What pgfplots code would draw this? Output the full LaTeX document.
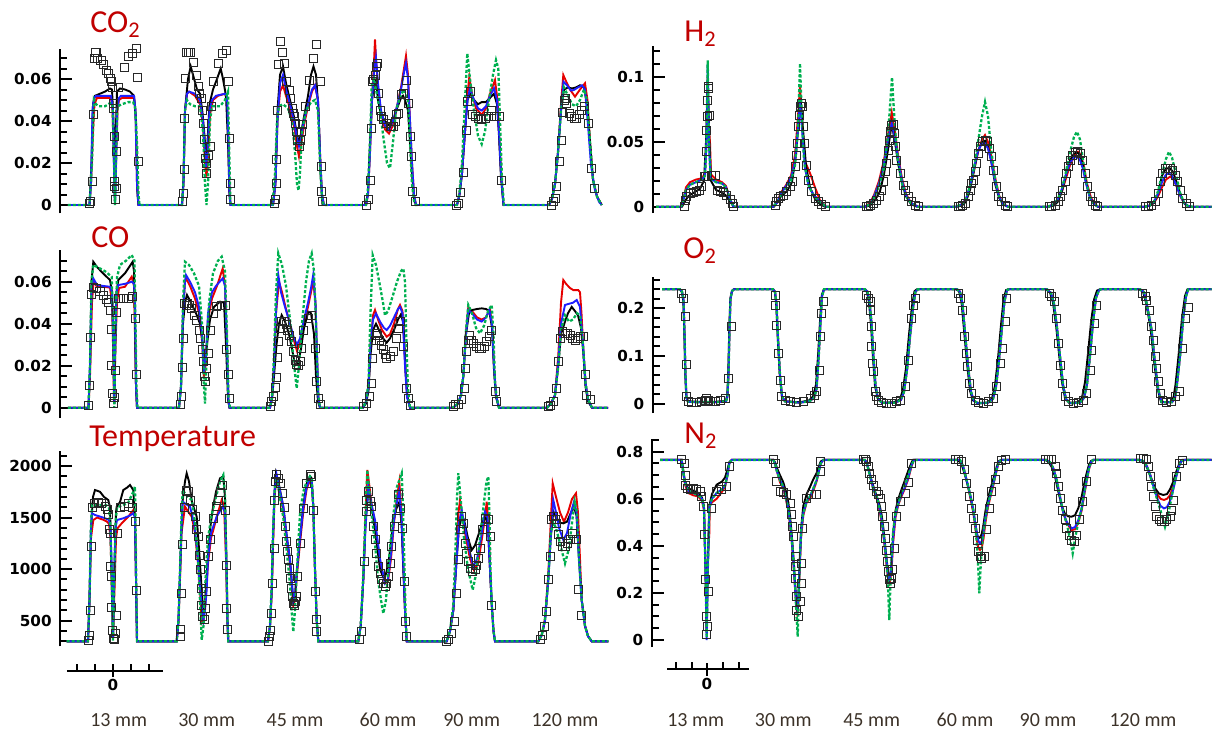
\documentclass[border=0pt]{standalone}
\usepackage{pgfplots}
\pgfplotsset{compat=1.18}
\usepackage{pgfplotstable}
\usepackage{fontspec}
\newfontfamily\tickfont{DejaVu Sans}
\newfontfamily\calfont{Carlito}
\definecolor{cred}{RGB}{230,0,0}
\definecolor{cblue}{RGB}{30,30,255}
\definecolor{cgreen}{RGB}{0,176,80}
\definecolor{ttl}{RGB}{192,0,0}
\definecolor{lbl}{RGB}{60,50,40}
\definecolor{sq}{RGB}{40,40,40}
\newcommand{\tl}[1]{\mbox{\tickfont\bfseries\fontsize{7.6}{9}\selectfont #1}}
\pgfplotsset{
  panel/.style={x=0.5pt, clip=false, axis x line=none, axis y line*=left,
    y axis line style={line width=1pt, black},
    tick align=inside, major tick length=6pt, minor tick length=3.5pt,
    every tick/.style={black, line width=1pt},
    xtick=\empty, scaled y ticks=false,
    yticklabel style={inner sep=0pt, xshift=-4pt},
    anchor=south west},
  sbar/.style={x=0.5pt, y=10pt, ymin=0, ymax=1, axis y line=none, axis x line*=bottom,
    x axis line style={line width=1pt, black}, tick align=center,
    major tick length=6.5pt, minor tick length=3.5pt,
    every tick/.style={black, line width=1pt},
    every minor tick/.append style={yshift=1.75pt},
    xticklabel style={inner sep=0pt, yshift=-1pt},
    anchor=south west, clip=false},
  lr/.style={cred, line width=0.95pt, no markers},
  lb/.style={cblue, line width=0.95pt, no markers},
  lk/.style={black, line width=0.95pt, no markers},
  lg/.style={cgreen, line width=1.15pt, dash pattern=on 1.5pt off 1pt, no markers},
  sqm/.style={only marks, mark=square, mark size=2pt, mark options={draw=sq, line width=0.5pt, fill=none, solid}},
}
\pgfplotstableread{
x y
662 0.24
680 0.24
682 0.235
683.5 0.22
684.5 0.15
685.5 0.06
686.5 0.012
688 0.004
700 0.003
715 0.003
726 0.005
727.5 0.015
728.5 0.06
729.5 0.15
730.5 0.22
732 0.236
734 0.24
773 0.24
775 0.235
776.5 0.21
778 0.14
780 0.06
782 0.015
785 0.005
800 0.002
810 0.006
814 0.012
816.5 0.03
818.5 0.09
820.5 0.17
822 0.225
824 0.24
865 0.24
867.5 0.235
869.5 0.215
871.5 0.17
873.5 0.1
875.5 0.04
878 0.01
882 0.002
895 0.002
901 0.008
904 0.025
907 0.07
910 0.14
913 0.2
915.5 0.235
918 0.24
957 0.24
960 0.235
962.5 0.21
965 0.15
968 0.08
971 0.025
974 0.006
978 0.001
988 0.002
993 0.01
996 0.035
999 0.09
1002 0.16
1004.5 0.215
1007 0.238
1009 0.24
1047 0.24
1051 0.232
1054 0.21
1057 0.16
1060 0.1
1063 0.04
1066 0.01
1070 0.001
1080 0.002
1084 0.012
1087 0.04
1090 0.1
1093 0.17
1096 0.222
1099 0.238
1101 0.24
1140 0.24
1144 0.234
1146.7 0.21
1151.7 0.154
1155 0.085
1158.3 0.029
1161.7 0.003
1172 0.003
1175 0.012
1176.7 0.035
1180 0.098
1183.3 0.18
1186 0.225
1188.3 0.24
1211.7 0.24
}\otwo
\begin{document}
\begin{tikzpicture}
\path[use as bounding box] (0,0) rectangle (606pt,-367pt);

% ---------------- CO2 ----------------
\begin{axis}[panel, xmin=60, xmax=605, ymin=-0.004, ymax=0.0745, y=1050pt, at={(30pt,-106.7pt)},
 ytick={0,0.02,0.04,0.06}, yticklabels={\tl{0},\tl{0.02},\tl{0.04},\tl{0.06}},
 minor ytick={0.005,0.01,0.015,0.025,0.03,0.035,0.045,0.05,0.055,0.065,0.07}]
\addplot[lr] coordinates {(68,0) (89.5,0) (91,0.01) (93,0.035) (94.5,0.048) (97,0.051) (111,0.051) (112.5,0.045) (114,0.02) (115,0.01) (116,0.02) (117.5,0.045) (119,0.05) (122,0.051) (134,0.051) (135.5,0.045) (137,0.01) (138.5,0)
(182,0) (183.5,0.01) (185,0.045) (187,0.053) (189,0.054) (195,0.052) (200,0.048) (203,0.038) (205,0.02) (206.5,0.0135) (208,0.022) (210,0.043) (213,0.05) (218,0.052) (225,0.053) (227,0.05) (228.5,0.03) (229.5,0.005) (230.5,0)
(273,0) (275.5,0.01) (277.5,0.04) (280,0.054) (283,0.057) (286,0.052) (290,0.046) (294,0.038) (297,0.028) (299,0.023) (301,0.028) (304,0.038) (308,0.047) (312,0.054) (315,0.057) (318,0.05) (320,0.025) (322,0.005) (324,0)
(366,0) (368,0.005) (370,0.025) (372,0.05) (374,0.068) (375,0.0789) (376,0.07) (378,0.056) (381,0.044) (385,0.036) (389,0.034) (393,0.038) (397,0.047) (401,0.056) (404,0.065) (406,0.071) (408,0.062) (410,0.04) (412,0.02) (414,0.005) (416,0)
(457,0) (459.5,0.005) (462,0.015) (465,0.035) (467.5,0.053) (469.3,0.061) (472,0.053) (476,0.046) (481.7,0.043) (486,0.046) (490,0.053) (495,0.0595) (497.5,0.05) (499.5,0.03) (501.5,0.012) (503.5,0)
(549,0) (552,0.003) (555,0.01) (558,0.025) (561,0.048) (563.3,0.0619) (566,0.059) (570,0.055) (575,0.0516) (580,0.055) (585,0.058) (587.5,0.05) (590,0.03) (593,0.012) (597,0.004) (601.7,0)};
\addplot[lk] coordinates {(68,0) (89.5,0) (91.5,0.02) (93,0.048) (95,0.052) (100,0.053) (105,0.054) (110,0.0555) (112,0.055) (113.5,0.04) (114.8,0.002) (115.5,0.03) (117,0.054) (120,0.0555) (125,0.055) (130,0.054) (134,0.052) (136,0.04) (137.5,0.005) (138.5,0)
(182,0) (183.5,0.012) (185,0.045) (188,0.06) (190.7,0.066) (193,0.062) (197,0.055) (200,0.053) (202.5,0.044) (204.5,0.033) (206,0.023) (207.5,0.03) (209.5,0.048) (213,0.055) (217,0.06) (220.7,0.065) (223,0.06) (226,0.052) (228,0.03) (229.5,0.005) (230.5,0)
(273,0) (275.5,0.012) (277.5,0.045) (280,0.062) (283,0.066) (286,0.058) (290,0.05) (294,0.042) (297,0.033) (299,0.03) (301,0.034) (304,0.042) (308,0.052) (311,0.062) (313.5,0.066) (316,0.062) (318.5,0.045) (320.5,0.015) (322.5,0)
(366,0) (368,0.006) (370,0.03) (372,0.05) (374,0.057) (376,0.0595) (378,0.05) (381,0.043) (385,0.04) (389,0.038) (393,0.04) (397,0.046) (401,0.051) (403,0.052) (405,0.05) (408,0.045) (410,0.03) (412,0.015) (414,0.003) (416,0)
(457,0) (459.5,0.005) (462,0.015) (465,0.035) (467.5,0.05) (470,0.053) (474,0.05) (478,0.048) (481.7,0.049) (486,0.049) (490,0.051) (494,0.053) (497,0.048) (499,0.033) (501,0.013) (503.5,0)
(549,0) (552,0.003) (555,0.01) (558,0.025) (561,0.045) (564,0.055) (568,0.056) (572,0.0555) (576,0.056) (580,0.057) (584,0.056) (587,0.048) (590,0.03) (593,0.012) (597,0.004) (601.7,0)};
\addplot[lb] coordinates {(68,0) (89.5,0) (91,0.01) (92.5,0.045) (94,0.051) (96,0.052) (111,0.052) (113,0.045) (114.5,0.005) (115,0.001) (115.5,0.005) (117,0.045) (119,0.051) (121,0.052) (134,0.052) (135.5,0.045) (137,0.01) (138.5,0)
(182,0) (183.5,0.01) (185,0.045) (187,0.053) (189,0.054) (195,0.053) (200,0.05) (203,0.04) (205,0.025) (206,0.018) (207.5,0.025) (209.5,0.045) (212,0.05) (216,0.052) (225,0.053) (227,0.052) (228.5,0.03) (229.5,0.005) (230.5,0)
(273,0) (275.5,0.01) (277.5,0.04) (280,0.058) (283,0.062) (286,0.055) (290,0.048) (294,0.04) (297,0.032) (299,0.028) (301,0.032) (304,0.04) (308,0.048) (312,0.055) (315,0.057) (318,0.05) (320,0.025) (322,0.005) (324,0)
(366,0) (368,0.005) (370,0.025) (372,0.05) (374,0.063) (376,0.07) (378,0.058) (381,0.045) (385,0.038) (389,0.0357) (393,0.04) (397,0.047) (401,0.055) (404,0.063) (406,0.0675) (408,0.06) (410,0.04) (412,0.02) (414,0.005) (416,0)
(457,0) (459.5,0.005) (462,0.015) (465,0.035) (467.5,0.05) (470,0.0556) (474,0.05) (478,0.046) (481.7,0.045) (486,0.047) (490,0.052) (494,0.0556) (497,0.05) (499,0.035) (501,0.015) (503.5,0)
(549,0) (552,0.003) (555,0.01) (558,0.025) (561,0.045) (563.5,0.0587) (567,0.057) (571,0.0545) (574,0.0548) (578,0.056) (582,0.057) (585,0.055) (588,0.038) (591,0.019) (595,0.007) (599,0.0015) (601.7,0)};
\addplot[lg] coordinates {(68,0) (89.5,0) (92,0.02) (94,0.05) (96,0.048) (99,0.047) (105,0.047) (110,0.0485) (112.5,0.048) (114,0.02) (115,0) (116,0.02) (117.5,0.047) (122,0.048) (128,0.049) (133,0.049) (135,0.047) (137,0.03) (138.5,0.005) (139.5,0)
(182,0) (183.5,0.012) (185,0.045) (187,0.05) (190,0.048) (195,0.047) (200,0.047) (203,0.035) (205,0.01) (206.5,0) (208,0.01) (210,0.04) (212,0.047) (220,0.047) (225,0.05) (228,0.054) (229.5,0.02) (230.5,0)
(272.5,0) (275,0.015) (277,0.04) (279,0.047) (283,0.048) (288,0.046) (292,0.04) (295,0.025) (297,0.01) (298.5,0.007) (300,0.015) (302,0.035) (306,0.045) (311,0.049) (315,0.05) (318,0.045) (320,0.02) (322,0.003) (323.5,0)
(366,0) (368,0.008) (370,0.03) (371.7,0.057) (374,0.06) (376,0.055) (380,0.045) (384,0.03) (387,0.02) (390,0.0175) (393,0.03) (396,0.045) (400,0.0516) (404,0.055) (408,0.05) (410,0.03) (412,0.01) (414,0.002) (416,0)
(457,0) (459.5,0.006) (462,0.02) (464.5,0.045) (467.3,0.0722) (470,0.06) (474,0.045) (478,0.033) (481.7,0.029) (485,0.035) (489,0.05) (493,0.062) (496,0.069) (498.3,0.065) (500,0.04) (502,0.012) (504,0)
(549,0) (552,0.003) (555,0.01) (558,0.025) (561,0.045) (564,0.056) (568,0.052) (572,0.048) (576,0.047) (580,0.05) (584,0.055) (587,0.05) (590,0.03) (593,0.012) (597,0.004) (601.7,0)};
\addplot[sqm] coordinates {(90,0.0008) (90.7,0.0016) (92.7,0.0114) (93.3,0.0429) (94.3,0.0698) (96,0.0725) (97.7,0.0698) (101,0.069) (103.3,0.0667) (106,0.064) (108.3,0.0624) (110,0.0603) (111.7,0.0587) (112.7,0.056) (113.3,0.0484) (113.3,0.046) (114,0.0325) (114,0.0111) (114.3,0.0087) (115,0.0027) (116,0.0254) (116.7,0.008) (118.3,0.056) (124,0.0654) (128.3,0.0706) (132.3,0.0722) (136,0.0746) (137.3,0.0606) (138.3,0.0206)
(182.7,0.0016) (183,0.0056) (184,0.017) (184.3,0.0413) (185.7,0.0603) (186.7,0.0727) (188.3,0.0727) (190.7,0.0727) (193.3,0.068) (196,0.0619) (198.3,0.0563) (199.3,0.0532) (201,0.0508) (202.3,0.0452) (203.3,0.0389) (204,0.031) (205,0.0222) (206,0.0151) (206.7,0.0198) (208.3,0.0238) (210,0.0278) (211.7,0.0468) (213.3,0.0587) (218.3,0.0674) (222.7,0.0722) (226,0.0738) (228.3,0.0587) (229.3,0.0317) (230,0.0103) (230,0.0024)
(274,0.0005) (275,0.0024) (276,0.0103) (276.7,0.0217) (277.7,0.0452) (278.3,0.0667) (280,0.0778) (282.7,0.0727) (284.3,0.0676) (286,0.0587) (289.3,0.0544) (290.7,0.0506) (292,0.046) (293.3,0.0437) (294.7,0.0421) (295.3,0.0389) (296.7,0.0349) (297.7,0.0309) (299,0.0278) (300,0.0309) (301,0.0349) (302.7,0.0381) (305,0.0468) (309.3,0.0595) (313.3,0.0698) (316.7,0.0762) (320,0.0587) (321.7,0.0183) (321.7,0.0063) (322.3,0.0016)
(366.7,0) (368.3,0.0024) (370,0.0119) (371,0.0365) (372.3,0.0587) (373.3,0.0598) (375,0.0619) (376,0.0659) (377.3,0.0675) (378.3,0.0532) (380,0.0452) (381.7,0.0421) (383.3,0.0405) (386.7,0.0389) (390,0.0373) (391.7,0.0373) (393.3,0.0373) (395,0.0397) (396.7,0.0429) (398.3,0.0437) (401.7,0.0524) (403.3,0.0532) (406.7,0.0595) (408.3,0.0484) (410,0.0325) (411.7,0.023) (412.7,0.0063) (415,0.0016)
(456.7,0) (458.3,0.0005) (460.7,0.0059) (463.3,0.0154) (466,0.0357) (467.7,0.0492) (470,0.054) (472.7,0.0429) (475,0.0421) (478.3,0.0413) (481.7,0.0405) (485,0.0413) (488.3,0.0421) (491.7,0.0452) (494,0.0421) (499.3,0.0421) (501.7,0.0119)
(551.7,0) (553.3,0.0016) (555,0.0032) (556.7,0.0087) (559.3,0.0206) (561,0.0308) (562.7,0.044) (564,0.05) (565.3,0.0508) (566.7,0.0484) (569.3,0.0437) (571.7,0.0421) (574,0.0413) (576.7,0.0413) (579.3,0.0429) (581.7,0.0452) (584,0.0471) (588.3,0.0386) (591.7,0.0175) (594,0.0079)};
\end{axis}

% ---------------- H2 ----------------
\begin{axis}[panel, xmin=652.7, xmax=1212, ymin=-0.005, ymax=0.124, y=647pt, at={(326.35pt,-106.6pt)},
 ytick={0,0.05,0.1}, yticklabels={\tl{0},\tl{0.05},\tl{0.1}},
 minor ytick={0.01,0.02,0.03,0.04,0.06,0.07,0.08,0.09,0.11,0.12}]
\addplot[lr] coordinates {(656,0) (681,0) (683,0.005) (686,0.015) (690,0.019) (696,0.021) (702,0.022) (705,0.026) (706.5,0.05) (707.7,0.1) (709,0.06) (710,0.05) (711,0.025) (716,0.021) (722,0.019) (726,0.016) (730,0.006) (733.5,0)
(773,0) (777,0.003) (781,0.011) (786,0.0167) (791,0.024) (795,0.04) (798,0.07) (800,0.093) (802,0.065) (805,0.035) (810,0.026) (815,0.015) (820,0.005) (826,0)
(865,0) (870,0.003) (874,0.009) (879,0.02) (884,0.036) (888,0.056) (891.7,0.073) (895,0.058) (898,0.04) (902,0.022) (906,0.01) (911,0.003) (918,0)
(956,0) (962,0.002) (966,0.006) (970,0.015) (974,0.028) (978,0.042) (982,0.052) (985,0.0554) (988,0.05) (991,0.04) (995,0.023) (999,0.009) (1003,0.002) (1008,0)
(1048,0) (1054,0.002) (1058,0.005) (1062,0.012) (1066,0.022) (1070,0.032) (1074,0.039) (1078,0.0425) (1081,0.04) (1084,0.031) (1087,0.018) (1091,0.007) (1095,0.002) (1098,0)
(1145,0) (1150,0.001) (1154,0.003) (1158,0.008) (1162,0.015) (1166,0.021) (1170,0.0232) (1173,0.022) (1177,0.015) (1181,0.007) (1185,0.002) (1189,0) (1211.7,0)};
\addplot[lk] coordinates {(656,0) (682,0) (684,0.003) (688,0.008) (694,0.011) (700,0.014) (704,0.02) (706,0.05) (707.7,0.095) (709.3,0.05) (711,0.02) (716,0.013) (722,0.011) (727,0.008) (731,0.003) (734,0)
(774,0) (778,0.005) (782,0.009) (787,0.012) (792,0.019) (796,0.04) (799,0.07) (801,0.08) (803,0.06) (806,0.032) (810,0.015) (815,0.006) (820,0.002) (825,0)
(866,0) (870,0.001) (875,0.005) (880,0.012) (884,0.025) (888,0.044) (891.7,0.064) (895,0.05) (898,0.034) (902,0.018) (906,0.008) (911,0.002) (917,0)
(957,0) (962,0.001) (966,0.004) (970,0.013) (974,0.028) (978,0.043) (982,0.05) (985,0.051) (988,0.046) (991,0.036) (995,0.018) (999,0.007) (1003,0.002) (1008,0)
(1049,0) (1054,0.001) (1058,0.004) (1062,0.012) (1066,0.025) (1070,0.036) (1074,0.041) (1077,0.042) (1080,0.04) (1083,0.032) (1086,0.019) (1090,0.007) (1094,0.002) (1098,0)
(1145,0) (1150,0.001) (1154,0.003) (1158,0.01) (1162,0.024) (1166,0.0296) (1170,0.0296) (1173,0.027) (1177,0.018) (1181,0.008) (1185,0.002) (1190,0) (1211.7,0)};
\addplot[lb] coordinates {(656,0) (681,0) (683,0.004) (686,0.013) (690,0.017) (696,0.019) (702,0.021) (705,0.024) (706.5,0.05) (707.7,0.11) (709,0.05) (710.5,0.022) (716,0.019) (722,0.018) (726,0.015) (730,0.006) (733.5,0)
(773,0) (777,0.003) (781,0.01) (786,0.016) (791,0.022) (795,0.035) (798,0.06) (800,0.082) (802,0.06) (805,0.03) (809,0.015) (814,0.009) (820,0.004) (826,0)
(865,0) (870,0.002) (874,0.008) (879,0.018) (884,0.033) (888,0.052) (891.7,0.064) (895,0.053) (898,0.038) (902,0.02) (906,0.009) (911,0.003) (918,0)
(956,0) (962,0.002) (966,0.006) (970,0.016) (974,0.03) (978,0.043) (982,0.049) (985,0.049) (988,0.045) (991,0.036) (995,0.02) (999,0.008) (1003,0.002) (1008,0)
(1048,0) (1054,0.002) (1058,0.006) (1062,0.014) (1066,0.025) (1070,0.034) (1074,0.038) (1077,0.0386) (1080,0.036) (1083,0.029) (1086,0.018) (1090,0.007) (1094,0.002) (1098,0)
(1145,0) (1150,0.001) (1154,0.004) (1158,0.01) (1162,0.019) (1166,0.025) (1169,0.0258) (1172,0.024) (1176,0.017) (1180,0.009) (1184,0.003) (1188,0.0005) (1192,0) (1211.7,0)};
\addplot[lg] coordinates {(656,0) (681,0) (683,0.004) (686,0.013) (690,0.017) (696,0.019) (702,0.021) (705,0.024) (706.5,0.05) (707.7,0.113) (709,0.05) (710.5,0.022) (716,0.019) (722,0.018) (726,0.015) (730,0.006) (733.5,0)
(773,0) (777,0.003) (781,0.009) (786,0.014) (791,0.02) (795,0.032) (798,0.06) (800,0.1108) (802,0.065) (804,0.035) (808,0.018) (813,0.009) (819,0.004) (826,0)
(865,0) (870,0.002) (874,0.007) (879,0.016) (884,0.03) (888,0.055) (892,0.1) (895,0.06) (898,0.035) (902,0.018) (906,0.008) (911,0.003) (918,0)
(956,0) (962,0.002) (966,0.006) (970,0.016) (974,0.03) (978,0.05) (982,0.07) (985,0.081) (988,0.07) (991,0.045) (995,0.022) (999,0.008) (1003,0.002) (1008,0)
(1048,0) (1054,0.002) (1058,0.006) (1062,0.014) (1066,0.027) (1070,0.042) (1074,0.054) (1077,0.058) (1080,0.052) (1083,0.036) (1086,0.02) (1090,0.007) (1094,0.002) (1098,0)
(1145,0) (1150,0.001) (1154,0.004) (1158,0.012) (1162,0.025) (1166,0.037) (1169,0.0425) (1172,0.038) (1176,0.025) (1180,0.011) (1184,0.003) (1188,0.0005) (1192,0) (1211.7,0)};
\addplot[sqm] coordinates {(684,0) (685,0.0052) (686.7,0.0077) (690,0.0103) (693.3,0.0108) (696.7,0.0116) (699.3,0.0129) (701.7,0.0155) (704,0.0232) (705,0.0232) (706,0.0425) (706.7,0.0592) (707.3,0.0695) (707.7,0.0824) (708.3,0.0914) (708.7,0.0927) (709.3,0.0708) (711.7,0.0245) (715,0.0245) (717.3,0.0129) (720,0.0116) (723.3,0.0108) (726.7,0.009) (730,0.0057) (732.7,0.0026) (733.3,0.0005)
(775,0.0013) (776.7,0.0039) (778.3,0.0064) (780,0.0077) (783.3,0.009) (786.7,0.0116) (790,0.0155) (792.7,0.0193) (795,0.0309) (796.7,0.0399) (797.7,0.0489) (798.3,0.0618) (799.3,0.0708) (800.7,0.0773) (801.7,0.0799) (802.7,0.0773) (803.3,0.0618) (804.3,0.0489) (806,0.0322) (808.3,0.0206) (811.7,0.0116) (815,0.0064) (818.3,0.0039) (821.7,0.0021) (825,0.0005)
(866.7,0) (868.3,0.0005) (870,0.0013) (873.3,0.0026) (876.7,0.0052) (879.3,0.0077) (881.7,0.0129) (883.3,0.0193) (885,0.027) (886.7,0.0335) (888.3,0.0438) (889.3,0.0515) (890.7,0.058) (891.7,0.0631) (893.3,0.0639) (894.3,0.0567) (895.5,0.0464) (896.7,0.036) (900,0.0258) (903.3,0.0167) (905,0.0129) (908.3,0.0077) (911.7,0.0039) (915,0.0013) (918.3,0)
(958.3,0) (960,0.0005) (962.7,0.0013) (965,0.0026) (968.3,0.0077) (970,0.0129) (971.7,0.018) (973.3,0.0206) (975,0.027) (976.7,0.0335) (978.3,0.0412) (980,0.0464) (982.7,0.0502) (985,0.0515) (987.3,0.0502) (989.3,0.0451) (991,0.0386) (993.3,0.0283) (996,0.0155) (998.3,0.0077) (1001.7,0.0039) (1005,0.0013) (1007.3,0)
(1049.3,0) (1051.7,0) (1055,0.0013) (1058.3,0.0039) (1060.7,0.0077) (1062.7,0.0129) (1065,0.0193) (1066.7,0.0258) (1068.3,0.0309) (1070,0.0361) (1072.7,0.0399) (1075,0.0417) (1077.3,0.0425) (1080,0.0412) (1082.7,0.0361) (1085,0.0258) (1087.3,0.0155) (1090,0.0077) (1092.7,0.0039) (1095,0.0013) (1097.3,0)
(1145,0) (1148.3,0) (1151.7,0.0013) (1155,0.0039) (1158.3,0.0103) (1160.7,0.0193) (1162.7,0.0258) (1165,0.0296) (1167.3,0.0296) (1170,0.0296) (1172.7,0.0283) (1175,0.0245) (1177.3,0.0193) (1180,0.0129) (1182.7,0.0064) (1186,0.0026) (1189.3,0)};
\end{axis}

% ---------------- CO ----------------
\begin{axis}[panel, xmin=60, xmax=610, ymin=-0.005, ymax=0.075, y=1050pt, at={(30pt,-209.1pt)},
 ytick={0,0.02,0.04,0.06}, yticklabels={\tl{0},\tl{0.02},\tl{0.04},\tl{0.06}},
 minor ytick={0.005,0.01,0.015,0.025,0.03,0.035,0.045,0.05,0.055,0.065,0.07}]
\addplot[lr] coordinates {(68,0) (88.5,0) (90,0.015) (92,0.05) (93.5,0.06) (97,0.0576) (103,0.0576) (110,0.0572) (112,0.05) (113,0.03) (114,0.002) (115.5,0.03) (117,0.05) (119,0.057) (125,0.0576) (131.7,0.0624) (134,0.058) (135,0.035) (136,0.01) (137,0)
(179,0) (181,0.01) (183,0.045) (185,0.06) (186,0.0616) (190,0.058) (195,0.052) (199,0.045) (202,0.032) (204,0.014) (206,0.022) (208,0.042) (212,0.052) (217,0.058) (222.7,0.0663) (225,0.058) (227,0.03) (228.5,0.003) (229.5,0)
(270,0) (272,0.005) (274,0.02) (276,0.045) (279,0.06) (282,0.055) (286,0.047) (290,0.04) (294,0.032) (297,0.027) (300,0.031) (304,0.04) (308,0.048) (311,0.055) (313.3,0.06) (315.5,0.05) (317,0.025) (318.5,0.004) (320,0)
(363,0) (366,0.003) (368.5,0.01) (370.5,0.03) (373,0.044) (375,0.0465) (378,0.042) (382,0.037) (386.7,0.0338) (390,0.035) (394,0.04) (398,0.047) (400,0.0489) (402.5,0.046) (405,0.022) (407,0.006) (410,0)
(453,0) (458,0.002) (461,0.006) (463.3,0.015) (466,0.036) (468.3,0.048) (472,0.046) (477,0.043) (481.7,0.042) (486,0.043) (490,0.047) (492,0.04) (494,0.02) (496,0.006) (499,0)
(547,0) (551,0.002) (555,0.006) (558.3,0.025) (561,0.05) (563.3,0.0608) (566,0.059) (570,0.057) (573.3,0.056) (578.3,0.056) (580,0.055) (581.5,0.045) (583.3,0.028) (585.5,0.012) (588,0.004) (592,0) (608,0)};
\addplot[lk] coordinates {(68,0) (88.5,0) (90,0.02) (91.5,0.06) (93.3,0.0695) (97,0.067) (103,0.064) (110,0.0608) (112,0.055) (113.5,0.03) (114.3,0.002) (115.2,0.03) (116.5,0.055) (118.3,0.0608) (125,0.064) (132.7,0.0695) (134,0.065) (135,0.04) (136,0.01) (137,0)
(179,0) (181,0.01) (183,0.04) (185,0.05) (187,0.0537) (191,0.05) (196,0.045) (200,0.04) (203,0.03) (205,0.02) (207,0.03) (210,0.042) (214,0.048) (220,0.0505) (224,0.05) (226,0.03) (228,0.004) (229.5,0)
(270,0) (272,0.004) (274,0.015) (276.5,0.03) (279,0.04) (281.7,0.0441) (285,0.041) (289,0.035) (292,0.028) (295,0.0203) (298,0.021) (301,0.028) (304,0.038) (308.3,0.0457) (311,0.045) (314,0.035) (316,0.015) (318,0.003) (320,0)
(363,0) (366,0.002) (368.5,0.008) (370.5,0.025) (373,0.037) (376,0.04) (379,0.037) (383,0.033) (386.7,0.031) (390,0.033) (394,0.037) (398,0.042) (401,0.0445) (403.5,0.04) (405.5,0.018) (407.5,0.005) (410,0)
(453,0) (458,0.002) (461,0.006) (463.3,0.015) (466,0.035) (469,0.045) (472,0.0465) (477,0.047) (481.7,0.0473) (486,0.047) (489.3,0.046) (492,0.038) (494,0.018) (496,0.005) (499,0)
(547,0) (551,0.002) (555,0.006) (558.3,0.02) (561,0.035) (565,0.041) (568,0.045) (571.7,0.048) (575,0.046) (578,0.044) (581,0.038) (583.5,0.025) (585.5,0.01) (588,0.003) (592,0) (608,0)};
\addplot[lb] coordinates {(68,0) (88.5,0) (90,0.02) (91.5,0.055) (93.3,0.0616) (97,0.0584) (103,0.058) (110,0.0576) (112,0.055) (113.5,0.03) (114.3,0.002) (115.2,0.03) (116.5,0.055) (118.3,0.0584) (125,0.059) (132,0.06) (134,0.059) (135,0.05) (136,0.01) (137,0)
(179,0) (181,0.01) (183,0.045) (185,0.06) (186,0.0632) (190,0.06) (195,0.055) (199,0.048) (202,0.035) (204,0.017) (206,0.025) (208,0.045) (212,0.055) (216,0.058) (222.7,0.0616) (225,0.058) (227,0.03) (228.5,0.003) (229.5,0)
(270,0) (272,0.005) (274,0.02) (276,0.045) (278.3,0.0632) (281,0.055) (285,0.048) (290,0.04) (294,0.033) (297,0.03) (300,0.033) (304,0.042) (308,0.05) (311,0.057) (313.3,0.0635) (315.5,0.05) (317,0.025) (318.5,0.004) (320,0)
(363,0) (366,0.003) (368.5,0.01) (370.5,0.03) (373,0.042) (376,0.0449) (380,0.041) (384,0.038) (386.7,0.037) (390,0.039) (394,0.043) (398,0.047) (400,0.048) (402.5,0.045) (405,0.02) (407,0.005) (410,0)
(453,0) (458,0.002) (461,0.006) (463.3,0.015) (466,0.035) (468.3,0.0465) (472,0.045) (477,0.042) (481.7,0.041) (486,0.043) (489.3,0.0465) (492,0.04) (494,0.02) (496,0.006) (499,0)
(547,0) (551,0.002) (555,0.006) (558.3,0.022) (561,0.04) (565,0.0489) (569,0.0495) (573,0.05) (576.7,0.0513) (580,0.048) (583,0.03) (585.5,0.012) (588,0.004) (592,0) (608,0)};
\addplot[lg] coordinates {(68,0) (88.5,0) (90,0.02) (91.5,0.06) (93.3,0.068) (100,0.0663) (105,0.065) (111.7,0.0624) (113,0.04) (114.3,0) (115.5,0.04) (117,0.062) (120,0.068) (126,0.07) (131.7,0.0727) (134.5,0.07) (135.5,0.04) (136.5,0.01) (137.5,0)
(179,0) (181,0.01) (183,0.05) (185,0.0695) (189,0.068) (194,0.064) (199,0.058) (202,0.04) (204,0.01) (205,0.002) (207,0.03) (209,0.05) (213,0.064) (218,0.07) (221.7,0.0719) (225,0.065) (227,0.035) (228.5,0.005) (230,0)
(270,0) (272,0.005) (274,0.025) (276,0.055) (278.3,0.0735) (282,0.068) (286,0.058) (290,0.042) (293,0.025) (296.7,0.0092) (299,0.02) (302,0.04) (306,0.06) (309,0.07) (311.7,0.0735) (314,0.065) (316,0.04) (318,0.008) (320,0)
(363,0) (366,0.003) (368.5,0.012) (370.5,0.045) (372.7,0.0727) (376,0.068) (380,0.058) (383,0.05) (385,0.044) (388,0.046) (392,0.052) (397,0.06) (401,0.065) (403.3,0.0663) (405,0.06) (406.5,0.03) (408,0.009) (410,0)
(453,0) (458,0.002) (461,0.006) (463.3,0.015) (466,0.037) (468.3,0.0489) (472,0.045) (476,0.038) (480,0.0354) (484,0.039) (488,0.046) (491.7,0.0489) (493.5,0.035) (495,0.012) (497,0.004) (499,0)
(547,0) (551,0.002) (555,0.006) (558.3,0.02) (561,0.037) (565,0.044) (569,0.041) (573,0.042) (577,0.045) (580,0.044) (583,0.03) (585.5,0.012) (588,0.004) (592,0) (608,0)};
\addplot[sqm] coordinates {(88.3,0.001) (90,0.0105) (90.7,0.0333) (91.7,0.054) (94,0.0571) (96.7,0.0568) (100,0.0552) (103.3,0.0536) (106,0.0513) (108.3,0.0502) (110,0.0465) (111,0.0371) (111.7,0.0203) (112,0.0068) (113.3,0.002) (114.3,0.0048) (115,0.0179) (116,0.0454) (118.3,0.0521) (123.3,0.0521) (128.3,0.0521) (132.7,0.0529) (135,0.0425) (136,0.0159)
(180,0.0013) (181,0.0052) (182,0.019) (183.3,0.033) (184.3,0.0497) (186,0.0489) (187.3,0.0497) (189,0.0489) (191,0.0473) (194,0.0441) (196.7,0.0417) (199.3,0.037) (200.7,0.033) (202.3,0.0275) (203.3,0.0219) (204,0.0148) (205,0.0124) (206.7,0.0187) (208.3,0.0259) (210,0.037) (213.3,0.0449) (216.7,0.0481) (221.7,0.0489) (225,0.0489) (226.7,0.0275) (228.3,0.0156) (229,0.0044)
(270.7,0.0005) (271.7,0.0029) (273.3,0.0052) (275,0.0098) (276,0.0146) (277.3,0.0241) (278.3,0.0317) (280,0.0378) (281.7,0.0409) (284,0.0409) (286,0.0394) (287.3,0.037) (289.3,0.0343) (291.7,0.0314) (293.3,0.0267) (295,0.0227) (296.7,0.0206) (298,0.02) (300,0.022) (301.7,0.028) (303.3,0.037) (308.3,0.0425) (311.7,0.0441) (315,0.0283) (316.7,0.0124) (318.3,0.0044) (320,0.0013)
(363.3,0.0005) (366,0.0021) (369.3,0.0052) (371.7,0.0116) (372.7,0.0235) (375,0.0322) (376,0.0354) (377.3,0.0346) (379.3,0.0322) (381.7,0.0298) (383.3,0.0275) (385,0.0251) (386.7,0.0235) (390,0.0243) (393.3,0.0267) (396,0.033) (398.3,0.0378) (400,0.041) (403.3,0.029) (406,0.0092) (408.3,0.0044) (410,0.001)
(453.3,0.0005) (455,0.0013) (458.3,0.0013) (461.7,0.0037) (464,0.0092) (465,0.0187) (466.7,0.0267) (468.3,0.0322) (469.3,0.0346) (471.7,0.0322) (473.3,0.0306) (476.7,0.029) (479.3,0.0283) (481.7,0.0283) (484,0.029) (486.7,0.0314) (489.3,0.0338) (491.7,0.037) (495,0.0076) (496.7,0.0029)
(548.3,0.0005) (550,0.001) (553.3,0.0029) (556.7,0.0092) (558.3,0.0219) (560.7,0.033) (562.7,0.0362) (565,0.0354) (567.3,0.0354) (570,0.0346) (572.7,0.033) (575,0.0322) (577.3,0.033) (580,0.0338) (583.3,0.0338) (585,0.0156) (586.7,0.006) (590,0.0037)};
\end{axis}

% ---------------- O2 ----------------
\begin{axis}[panel, xmin=652.7, xmax=1212, ymin=-0.02, ymax=0.266, y=238.5pt, at={(326.35pt,-206.62pt)},
 ytick={0,0.1,0.2}, yticklabels={\tl{0},\tl{0.1},\tl{0.2}},
 minor ytick={0.02,0.04,0.06,0.08,0.12,0.14,0.16,0.18,0.22,0.24,0.26}]
\addplot[lr] table[x=x,y=y] {\otwo};
\addplot[lk] coordinates {(662,0.24) (680,0.24) (682,0.233) (683.3,0.215) (684.3,0.15) (685.3,0.06) (686.3,0.013) (688,0.005) (700,0.004) (715,0.004) (726,0.006) (727.3,0.02) (728.3,0.07) (729.3,0.16) (730.3,0.22) (732,0.237) (734,0.24)
(773,0.24) (775,0.233) (776.3,0.205) (777.8,0.135) (779.8,0.058) (782,0.015) (785,0.005) (800,0.003) (809,0.007) (813,0.015) (816,0.04) (818,0.1) (820.2,0.18) (821.8,0.228) (824,0.24)
(864.5,0.24) (867,0.234) (869,0.212) (871,0.165) (873,0.095) (875,0.037) (878,0.009) (882,0.002) (894,0.003) (900,0.009) (903,0.03) (906,0.075) (909,0.145) (912,0.205) (914.5,0.236) (917,0.24)
(956,0.24) (959,0.236) (961.5,0.213) (964,0.155) (967,0.085) (970,0.027) (973,0.007) (977,0.002) (987,0.002) (992,0.011) (995,0.038) (998,0.095) (1001,0.165) (1003.5,0.218) (1006,0.238) (1008,0.24)
(1046,0.24) (1050,0.233) (1053,0.212) (1056,0.165) (1059,0.105) (1062,0.045) (1065,0.012) (1069,0.002) (1078,0.003) (1082,0.013) (1085,0.045) (1088,0.105) (1091,0.17) (1094,0.218) (1097,0.237) (1100,0.24)
(1139,0.24) (1143,0.235) (1146,0.212) (1150.5,0.16) (1154,0.09) (1157.5,0.032) (1161,0.004) (1170,0.003) (1173.5,0.013) (1175.5,0.04) (1178.5,0.1) (1182,0.18) (1185,0.226) (1187.5,0.24) (1211.7,0.24)};
\addplot[lb] table[x=x,y=y] {\otwo};
\addplot[lg] table[x=x,y=y] {\otwo};
\addplot[sqm] coordinates {(681.7,0.2313) (683.3,0.2208) (685,0.1824) (686,0.0813) (686.7,0.0147) (688.3,0.0042) (691.7,0.0021) (696.7,0.0021) (701.7,0.0042) (705,0.0077) (706.7,0.0112) (708.3,0.0063) (710,0.0042) (715,0.0042) (720,0.0063) (725,0.0112) (728.3,0.0531) (731.7,0.1614)
(775,0.2278) (775.7,0.2068) (776.7,0.1649) (778.3,0.1055) (780,0.0496) (781.7,0.0147) (785,0.0077) (790,0.0042) (796.7,0.0021) (803.3,0.0042) (810,0.0112) (814,0.0182) (816.7,0.0252) (819.3,0.0706) (820.7,0.1405) (821.7,0.1894) (823.3,0.2138)
(866.7,0.2278) (868.3,0.2208) (870,0.2138) (870.7,0.1964) (871.7,0.1614) (871.7,0.1195) (872.3,0.0845) (873.3,0.0671) (875,0.0252) (876.7,0.0147) (878.3,0.0063) (881.7,0.0021) (886.7,0.0007) (891.7,0.0007) (896.7,0.0042) (900,0.0063) (905,0.0356) (908.3,0.0915) (911.7,0.1789) (913.3,0.2068) (915,0.2208)
(958.3,0.2313) (960,0.2208) (962.7,0.1964) (964,0.1405) (966,0.1056) (967.3,0.0776) (969.3,0.0426) (971.7,0.0217) (975,0.0077) (978.3,0.0021) (983.3,0.0007) (988.3,0.0042) (993.3,0.0112) (996.7,0.0356) (1000,0.0845) (1002.7,0.116) (1005,0.1719) (1006.7,0.2208)
(1049.3,0.2313) (1051.7,0.2243) (1054,0.2138) (1056.7,0.1789) (1058.3,0.1265) (1060.7,0.0811) (1062.7,0.0426) (1065,0.0147) (1068.3,0.0042) (1073.3,0.0007) (1078.3,0.0021) (1083.3,0.0063) (1086.7,0.0217) (1090,0.0706) (1091.7,0.1125) (1094,0.1684) (1096,0.2068)
(1142.7,0.2313) (1145,0.2243) (1146.7,0.2173) (1149.3,0.1964) (1151.7,0.1614) (1153.3,0.1335) (1155,0.0985) (1156.7,0.0741) (1158.3,0.0461) (1160,0.0217) (1162.7,0.0077) (1166.7,0.0021) (1171.7,0.0042) (1175,0.0147) (1179.3,0.0252) (1182.7,0.116) (1185,0.1789) (1188.3,0.202)};
\end{axis}

% ---------------- Temperature ----------------
\begin{axis}[panel, xmin=60, xmax=610, ymin=250, ymax=2150, y=0.051568pt, at={(30pt,-323.24pt)},
 ytick={500,1000,1500,2000}, yticklabels={\tl{500},\tl{1000},\tl{1500},\tl{2000}},
 minor ytick={300,400,600,700,800,900,1100,1200,1300,1400,1600,1700,1800,1900,2100}]
\addplot[lr] coordinates {(66.7,300) (88,300) (89.5,700) (91,1300) (93.3,1476) (97,1500) (103,1480) (107,1460) (109,1440) (110.5,1300) (111.5,927) (113,320) (114.5,800) (116,1300) (117.5,1396) (121.7,1444) (128.3,1509) (133.3,1573) (135,1520) (136,900) (137,300)
(176.7,300) (178.5,500) (180,900) (181.5,1350) (185,1606) (188,1560) (191.7,1509) (195,1350) (198,1050) (200,800) (201.7,475) (203.5,500) (205.5,700) (208,1050) (211,1300) (213.3,1380) (218,1550) (221.7,1670) (224,1620) (226,1100) (227.3,500) (228.3,300)
(268,300) (270,450) (271.7,750) (273,1200) (274.5,1700) (276.7,1890) (279,1780) (283.3,1560) (287,1250) (290,1050) (292,800) (293.3,650) (295,700) (297,950) (300,1250) (303.3,1560) (306.7,1780) (310,1860) (311.7,1840) (313.3,1600) (315,1000) (316.7,500) (318.3,300)
(358.3,300) (360.7,450) (363.3,900) (365.5,1500) (367.3,1961) (369.5,1800) (372,1600) (375,1450) (380,1050) (385,862) (388,880) (391,1100) (394,1450) (397,1700) (399.3,1848) (401.5,1550) (403.5,1000) (405,600) (406.7,300)
(446.7,300) (450,400) (453.3,600) (456.7,1150) (458.5,1550) (460,1670) (462.5,1500) (466,1300) (470,1100) (474,991) (478,1050) (482,1300) (485,1500) (486.7,1654) (488.5,1450) (490,1000) (491.7,668) (493.5,400) (495,300)
(538.3,300) (541.7,360) (545,520) (548.3,950) (550.7,1450) (552.7,1832) (556,1700) (560,1550) (564,1460) (568,1550) (572,1680) (576,1735) (578,1550) (580,1100) (581.7,700) (585,450) (588,350) (591.7,300) (608.3,300)};
\addplot[lk] coordinates {(66.7,300) (88,300) (89.5,700) (91,1400) (93,1700) (95,1767) (100,1750) (104,1700) (108.3,1670) (110,1600) (111.5,1000) (113,320) (114.5,1000) (116,1550) (116.7,1606) (120,1650) (123.3,1767) (127,1790) (130,1816) (133.3,1767) (135,1500) (136,900) (137,300)
(176.7,300) (178.5,500) (180,959) (181.5,1400) (182.7,1670) (185,1850) (186.7,1929) (189,1850) (192,1650) (196.7,1509) (199,1200) (201.7,800) (203.5,550) (205,650) (207,1000) (210,1380) (213,1600) (216,1750) (220,1880) (223.3,1900) (225,1700) (226.7,1000) (227.5,500) (228.3,300)
(268,300) (270,450) (271.7,800) (273,1300) (274.5,1750) (276,1929) (278.3,1850) (283.3,1606) (287,1300) (290,1089) (292,850) (293.3,680) (295,720) (297,1000) (300,1300) (303.3,1620) (306.7,1830) (310,1900) (311.7,1880) (313.3,1600) (315,1000) (316.7,500) (318.3,300)
(358.3,300) (360.7,450) (363.3,900) (365.5,1450) (368.3,1750) (370,1700) (372.5,1550) (376,1300) (380,1000) (383,927) (386,950) (389,1100) (392,1350) (395,1550) (397,1600) (399.3,1650) (401.5,1450) (403.5,950) (405,600) (406.7,300)
(446.7,300) (450,400) (453.3,600) (456.7,1100) (459,1400) (461.7,1509) (464,1480) (468,1300) (471.7,1185) (475,1230) (479,1350) (483.3,1477) (486,1500) (488,1400) (490,1000) (491.7,668) (493.5,400) (495,300)
(538.3,300) (541.7,360) (545,500) (548.3,900) (550.7,1300) (553.3,1560) (556,1500) (560,1450) (563.3,1444) (567,1460) (571,1550) (574,1600) (576.5,1520) (579,1100) (581.7,700) (585,450) (588,350) (591.7,300) (608.3,300)};
\addplot[lb] coordinates {(66.7,300) (88,300) (89.5,700) (91,1400) (92,1541) (95,1525) (100,1510) (106,1490) (109,1476) (110.5,1400) (112,900) (113,320) (114,900) (115.5,1400) (117,1476) (123.3,1493) (130,1520) (133.3,1541) (135,1500) (136,900) (137,300)
(176.7,300) (178.5,500) (180,959) (181.5,1400) (182.7,1654) (186,1630) (190,1606) (194,1450) (197,1200) (200,830) (202,600) (203.5,507) (205,600) (206.7,800) (208,1100) (211,1350) (216.7,1509) (222.7,1606) (225,1550) (226.5,1000) (227.5,500) (228.3,300)
(268,300) (270,450) (271.7,800) (273,1300) (274.5,1750) (276.7,1913) (279,1800) (283.3,1606) (287,1300) (290,1089) (292,850) (293.3,700) (295,760) (297,1000) (300,1300) (303.3,1600) (306.7,1800) (310,1880) (311.7,1860) (313.3,1600) (315,1000) (316.7,500) (318.3,300)
(358.3,300) (360.7,450) (363.3,900) (365.5,1400) (368.3,1800) (371,1650) (375,1477) (380,1100) (385,862) (388,900) (391,1150) (394,1477) (397,1650) (399.3,1751) (401.5,1500) (403.5,1000) (405,600) (406.7,300)
(446.7,300) (450,400) (453.3,600) (456.7,1100) (459,1450) (461.7,1573) (465,1400) (469,1200) (473.3,1024) (477,1100) (481,1300) (485,1557) (487.5,1500) (489.5,1100) (491.7,668) (493.5,400) (495,300)
(538.3,300) (541.7,360) (545,500) (548.3,900) (550.7,1300) (553.3,1670) (556,1550) (559,1400) (563.3,1283) (567,1350) (571,1550) (574,1654) (576.5,1550) (579,1100) (581.7,700) (585,450) (588,350) (591.7,300) (608.3,300)};
\addplot[lg] coordinates {(66.7,300) (88,300) (89.5,700) (91,1450) (92,1620) (95,1620) (100,1622) (106,1620) (109,1600) (110.5,1400) (112,800) (113,300) (114,800) (115.5,1450) (117,1600) (123,1620) (128,1640) (133.3,1750) (135,1800) (136,1100) (137,300)
(176.7,300) (178.5,500) (180,1000) (181.5,1500) (182.7,1767) (186,1720) (191.7,1670) (195,1450) (198,1100) (200,700) (201.7,313) (203.5,450) (205.5,900) (208,1300) (211.7,1530) (216,1700) (220,1850) (223.3,1913) (225,1700) (226.5,1000) (227.5,500) (228.3,300)
(268,300) (270,450) (271.7,850) (273,1350) (275,1800) (276.7,1880) (279,1750) (283.3,1500) (287,1150) (290,850) (292,550) (293.3,393) (295,600) (297,1000) (300,1541) (303.3,1750) (306.7,1850) (310,1900) (311.7,1880) (313.3,1600) (315,1000) (316.7,500) (318.3,300)
(358.3,300) (360.7,450) (363.3,950) (365.5,1550) (367.3,1961) (369.5,1750) (372,1500) (375,1250) (378,900) (381,700) (383.3,571) (386,700) (389,1100) (393,1500) (397,1800) (401.7,1929) (403,1600) (404.5,1000) (405.5,600) (406.7,300)
(446.7,300) (450,400) (453.3,650) (455.5,1200) (457,1700) (458.3,1929) (460.5,1700) (464,1300) (468,1000) (472.7,798) (476,950) (480,1300) (484,1650) (486.5,1850) (488.3,1897) (489.5,1500) (490.5,1000) (491.7,668) (493.5,400) (495,300)
(538.3,300) (541.7,360) (545,520) (548.3,900) (550.7,1350) (553.3,1450) (556,1400) (560,1250) (565,1056) (569,1200) (572,1450) (574.7,1654) (577,1550) (579,1100) (581.7,700) (585,450) (588,350) (591.7,300) (608.3,300)};
\addplot[sqm] coordinates {(88.3,306) (90,352) (91,597) (91.7,1224) (92.7,1599) (95,1638) (98.3,1644) (101.7,1638) (105,1612) (107.3,1580) (108.3,1525) (109.3,1380) (110,1347) (110.7,1024) (111,927) (111.7,630) (112.7,403) (113.3,329) (114.3,313) (115,378) (116,555) (117.3,1347) (120,1599) (124,1612) (128.3,1632) (132.7,1599) (135,1460) (136,791)
(180,345) (180.7,410) (181.7,765) (182.7,1234) (184,1599) (186,1767) (188.3,1751) (190,1670) (192.7,1580) (195,1509) (196.7,1380) (198.3,1315) (199.3,1137) (200,992) (201,814) (201.7,652) (202.7,539) (204,507) (205,620) (206.7,782) (208.3,1121) (210.7,1283) (213.3,1493) (216.7,1606) (218.3,1670) (220,1741) (222.7,1806) (225,1573) (226,1040) (226.7,620) (227.3,416)
(268.3,297) (269.3,345) (270.7,403) (271.7,571) (272.7,862) (274,1202) (274,1670) (275,1848) (276.7,1913) (278.3,1880) (280.7,1832) (282.7,1735) (284,1599) (285,1412) (286,1266) (287.3,1169) (288.3,1089) (289.3,1008) (290.7,911) (291.7,814) (292.7,733) (293.3,669) (294,652) (295,685) (296,733) (297.3,927) (300,1250) (303.3,1590) (306.7,1832) (310,1913) (311.7,1897) (313.3,1573) (315,782) (316,507) (316.7,394)
(359.3,313) (361.7,394) (364,1072) (366,1557) (366.7,1670) (368.3,1751) (370,1654) (371.7,1606) (373.3,1412) (375,1283) (376.7,1153) (378.3,1024) (380,959) (381.7,895) (383.3,862) (385,836) (386.7,862) (388.3,927) (390,1056) (391.7,1218) (394,1412) (396,1493) (398.3,1728) (400,1590) (402.7,1396) (404,878) (405,490) (406.7,345)
(446.7,297) (448.3,313) (451.7,378) (454,491) (456.7,765) (458.3,1089) (460,1380) (461.7,1509) (463.3,1444) (465,1250) (466.7,1153) (468.3,1072) (470,1008) (472.7,975) (475,992) (476.7,1040) (478.3,1105) (480.7,1202) (482.7,1380) (485,1493) (488.3,1477) (490,1315) (491.7,652)
(540.7,313) (542.7,361) (544,442) (546,588) (548.3,895) (550,1121) (551.7,1477) (553.3,1509) (555,1477) (556,1444) (558.3,1331) (560,1266) (562.7,1218) (565,1218) (567.3,1244) (570,1283) (572.7,1347) (576,1283) (578.3,798) (581.7,555)};
\end{axis}

% ---------------- N2 ----------------
\begin{axis}[panel, xmin=651.7, xmax=1212, ymin=-0.03, ymax=0.855, y=117.7pt, at={(325.85pt,-323.53pt)},
 ytick={0,0.2,0.4,0.6,0.8}, yticklabels={\tl{0},\tl{0.2},\tl{0.4},\tl{0.6},\tl{0.8}},
 minor ytick={0.05,0.1,0.15,0.25,0.3,0.35,0.45,0.5,0.55,0.65,0.7,0.75,0.85}]
\addplot[lr] coordinates {(660,0.765) (681.7,0.765) (683.3,0.71) (685,0.66) (688,0.625) (693,0.615) (698.3,0.61) (702,0.59) (704,0.55) (705.5,0.3) (706.5,0.04) (707.5,0.3) (708.5,0.4) (709.3,0.45) (709.8,0.57) (712,0.585) (716.7,0.6) (722,0.63) (725,0.65) (727.5,0.7) (729.3,0.75) (731.7,0.765)
(773.3,0.765) (775,0.75) (776.7,0.72) (780,0.67) (783.3,0.645) (786,0.595) (788.3,0.55) (790,0.49) (791.7,0.42) (793.5,0.32) (795,0.22) (796.3,0.14) (797.3,0.11) (798.3,0.15) (799.5,0.28) (801,0.43) (803.3,0.53) (806.7,0.585) (810,0.6) (813,0.63) (816.7,0.675) (819,0.72) (820.7,0.75) (823.3,0.765)
(865,0.765) (867,0.75) (870,0.7) (873,0.645) (876.7,0.6) (879.5,0.55) (881.7,0.5) (883.5,0.44) (885,0.38) (886.7,0.31) (888.3,0.25) (889.3,0.24) (890.5,0.26) (892,0.33) (893.3,0.42) (895.5,0.52) (898.3,0.575) (902,0.615) (905,0.645) (908.3,0.685) (911.7,0.74) (914,0.765)
(960,0.765) (963.3,0.736) (966,0.69) (968.3,0.645) (971,0.59) (973.3,0.54) (975.5,0.47) (977,0.42) (978.5,0.39) (980,0.382) (981.7,0.39) (983.5,0.43) (985.5,0.5) (988,0.565) (990,0.6) (993,0.65) (995,0.69) (997,0.725) (998.5,0.752) (1001.7,0.765)
(1046.7,0.765) (1050,0.755) (1053.3,0.73) (1056.7,0.68) (1060,0.61) (1063.3,0.54) (1067,0.495) (1071.7,0.467) (1075,0.47) (1078.3,0.5) (1081.7,0.55) (1084,0.61) (1086.7,0.675) (1089,0.725) (1091,0.753) (1093.3,0.765)
(1140,0.765) (1143.3,0.76) (1146.7,0.74) (1150,0.705) (1153.3,0.66) (1157,0.62) (1160.5,0.6) (1164,0.595) (1167,0.6) (1170,0.615) (1173,0.65) (1176.7,0.705) (1179.5,0.745) (1182,0.762) (1185,0.765) (1211.7,0.765)};
\addplot[lk] coordinates {(660,0.765) (681.7,0.765) (683.3,0.72) (685,0.675) (688,0.645) (693,0.635) (698.3,0.625) (702,0.605) (704,0.57) (705.5,0.3) (706.7,0.03) (707.8,0.3) (709.3,0.57) (712,0.62) (716.7,0.66) (722,0.673) (725,0.69) (727.5,0.725) (729.3,0.755) (731.7,0.765)
(773.3,0.765) (775,0.755) (777,0.73) (780,0.7) (783.3,0.67) (786,0.63) (788.3,0.585) (790,0.53) (791.7,0.45) (793.5,0.35) (795,0.25) (796.3,0.16) (797.3,0.13) (798.3,0.17) (799.5,0.3) (801,0.47) (803.3,0.57) (806.7,0.62) (810,0.65) (813,0.68) (816.7,0.71) (819,0.74) (820.7,0.758) (823.3,0.765)
(864,0.765) (866,0.758) (869,0.72) (872,0.67) (876,0.62) (879.5,0.575) (881.7,0.53) (883.5,0.47) (885,0.41) (886.7,0.34) (888.3,0.28) (889.3,0.26) (890.5,0.28) (892,0.36) (893.3,0.46) (895.5,0.55) (898.3,0.6) (902,0.645) (905,0.68) (908.3,0.72) (911.7,0.755) (913,0.765)
(958,0.765) (961.7,0.745) (965,0.7) (968.3,0.65) (971,0.6) (973.3,0.55) (975.5,0.49) (977,0.45) (978.3,0.432) (980,0.435) (981.7,0.45) (983.5,0.49) (985.5,0.55) (988,0.6) (990,0.635) (993,0.68) (995,0.71) (997,0.74) (999,0.76) (1001,0.765)
(1045,0.765) (1048.3,0.758) (1051.7,0.735) (1055,0.695) (1058.3,0.63) (1061.7,0.57) (1065,0.535) (1068.3,0.525) (1071.7,0.524) (1075,0.53) (1078.3,0.56) (1081.7,0.61) (1084,0.66) (1086.7,0.71) (1089,0.745) (1091,0.76) (1093,0.765)
(1139,0.765) (1142,0.762) (1145,0.75) (1148.3,0.72) (1151.7,0.68) (1155,0.645) (1159,0.622) (1163.3,0.616) (1167,0.62) (1170,0.64) (1173,0.67) (1176.7,0.72) (1179.5,0.752) (1182,0.765) (1211.7,0.765)};
\addplot[lb] coordinates {(660,0.765) (681.7,0.765) (683.3,0.71) (685,0.668) (688,0.635) (693,0.625) (698.3,0.615) (702,0.6) (704,0.56) (705.5,0.3) (706.7,0) (707.8,0.3) (709.3,0.56) (712,0.6) (716.7,0.625) (722,0.64) (725,0.655) (727.5,0.7) (729.3,0.75) (731.7,0.765)
(773.3,0.765) (775,0.75) (776.7,0.72) (780,0.68) (783.3,0.651) (786,0.6) (788.3,0.56) (790,0.5) (791.7,0.43) (793.5,0.33) (795,0.23) (796.3,0.15) (797.3,0.13) (798.3,0.17) (799.5,0.3) (801,0.45) (803.3,0.54) (806.7,0.59) (810,0.61) (813,0.64) (816.7,0.68) (819,0.72) (820.7,0.75) (823.3,0.765)
(865,0.765) (867,0.75) (870,0.7) (873,0.65) (876.7,0.605) (879.5,0.56) (881.7,0.51) (883.5,0.45) (885,0.395) (886.7,0.33) (888.3,0.27) (889.3,0.26) (890.5,0.28) (892,0.35) (893.3,0.44) (895.5,0.53) (898.3,0.58) (902,0.62) (905,0.65) (908.3,0.69) (911.7,0.745) (914,0.765)
(960,0.765) (963.3,0.736) (966,0.69) (968.3,0.651) (971,0.6) (973.3,0.552) (975.5,0.49) (977,0.45) (978.5,0.42) (980,0.41) (981.7,0.42) (983.5,0.46) (985.5,0.52) (988,0.58) (990,0.609) (993,0.66) (995,0.694) (997,0.73) (998.5,0.755) (1001.7,0.765)
(1046.7,0.765) (1050,0.755) (1053.3,0.73) (1056.7,0.68) (1060,0.61) (1063.3,0.54) (1067,0.5) (1071.7,0.474) (1075,0.48) (1078.3,0.51) (1081.7,0.56) (1084,0.62) (1086.7,0.68) (1089,0.73) (1091,0.755) (1093.3,0.765)
(1140,0.765) (1143.3,0.76) (1146.7,0.74) (1150,0.705) (1153.3,0.655) (1157,0.605) (1160.5,0.57) (1164,0.559) (1167,0.565) (1170,0.59) (1173,0.635) (1176.7,0.7) (1179.5,0.745) (1182,0.762) (1185,0.765) (1211.7,0.765)};
\addplot[lg] coordinates {(660,0.765) (681.7,0.765) (683.3,0.71) (685,0.668) (688,0.635) (693,0.625) (698.3,0.615) (702,0.6) (704,0.56) (705.5,0.3) (706.7,0.01) (707.8,0.3) (709.3,0.56) (712,0.6) (716.7,0.625) (722,0.64) (725,0.655) (727.5,0.7) (729.3,0.75) (731.7,0.765)
(773.3,0.765) (775,0.75) (776.7,0.72) (780,0.68) (783.3,0.651) (786,0.6) (788.3,0.56) (790,0.5) (791.7,0.43) (793.5,0.34) (795,0.24) (796.3,0.12) (797.7,0.014) (798.8,0.2) (800,0.368) (801.5,0.48) (803.3,0.538) (806.7,0.59) (810,0.609) (813,0.64) (816.7,0.68) (819,0.72) (820.7,0.75) (823.3,0.765)
(865,0.765) (867,0.75) (870,0.694) (873,0.645) (876.7,0.609) (879.5,0.56) (881.7,0.51) (883.5,0.45) (885,0.396) (886.7,0.32) (888.3,0.2) (889.3,0.085) (890.5,0.25) (892,0.4) (893.3,0.467) (895.5,0.54) (898.3,0.58) (902,0.63) (905,0.66) (908.3,0.7) (911.7,0.745) (914,0.765)
(960,0.765) (963.3,0.736) (966,0.69) (968.3,0.651) (971,0.6) (973.3,0.552) (975.5,0.48) (977.3,0.38) (978.5,0.28) (979.3,0.198) (980.5,0.3) (982,0.4) (984,0.47) (986,0.53) (988.5,0.585) (990,0.609) (993,0.66) (995,0.694) (997,0.73) (998.5,0.755) (1001.7,0.765)
(1046.7,0.765) (1050,0.755) (1053.3,0.73) (1056.7,0.68) (1060,0.61) (1063.3,0.54) (1067,0.49) (1070,0.43) (1072.7,0.368) (1075,0.43) (1078.3,0.5) (1081.7,0.56) (1084,0.62) (1086.7,0.68) (1089,0.73) (1091,0.755) (1093.3,0.765)
(1140,0.765) (1143.3,0.76) (1146.7,0.74) (1150,0.7) (1153.3,0.65) (1157,0.6) (1160.5,0.55) (1165,0.481) (1168,0.53) (1171.7,0.609) (1174,0.66) (1176.7,0.708) (1179.5,0.745) (1182,0.762) (1185,0.765) (1211.7,0.765)};
\addplot[sqm] coordinates {(681.7,0.7675) (684,0.7505) (685,0.6967) (685,0.6584) (687.3,0.6443) (690,0.6372) (693.3,0.6443) (696.7,0.6372) (700,0.6301) (701.7,0.6117) (703.3,0.5692) (704.3,0.4461) (705,0.2549) (706,0.0991) (706.7,0.0255) (707.3,0.0566) (708.3,0.2053) (711.7,0.56) (716,0.6301) (721.7,0.6372) (726.7,0.6513) (729.3,0.7363)
(773.3,0.7675) (775,0.7505) (776.7,0.6726) (780,0.6301) (783.3,0.6259) (786.7,0.616) (790,0.5806) (791.7,0.531) (792.7,0.4815) (793.3,0.439) (795,0.354) (795.3,0.3115) (795.7,0.262) (796,0.1841) (796.7,0.1274) (798.3,0.0991) (800,0.1628) (801,0.2407) (801.7,0.3257) (802.7,0.4744) (806.7,0.6018) (811.7,0.616) (816,0.616) (820,0.7151) (820.7,0.7576)
(863.3,0.7675) (865,0.7647) (866.7,0.7576) (868.3,0.7363) (869.3,0.708) (871.7,0.6797) (873.3,0.6584) (876,0.6301) (878.3,0.616) (880,0.6018) (881.7,0.5692) (882.7,0.5239) (884,0.4815) (885,0.4319) (886,0.3823) (887.3,0.3328) (888.3,0.2903) (889.3,0.2577) (890.7,0.2407) (891.7,0.262) (892.7,0.2974) (894,0.3894) (896.7,0.5239) (900,0.5876) (905,0.623) (908.3,0.67) (911.7,0.75)
(955,0.7675) (958.3,0.7675) (961.7,0.7576) (964,0.7222) (966.7,0.6655) (969.3,0.6089) (971.7,0.5593) (973.3,0.5168) (975,0.4744) (977.3,0.4248) (978.3,0.3753) (980,0.354) (981.7,0.3469) (984,0.354) (986.7,0.4673) (989.3,0.5593) (991.7,0.6301) (995,0.6797) (998.3,0.7363) (1001.7,0.7618) (1005,0.7647)
(1045,0.7675) (1048.3,0.7675) (1051.7,0.7647) (1055,0.7363) (1056.7,0.708) (1058.3,0.6514) (1060,0.6018) (1062.7,0.5522) (1065,0.5098) (1066.7,0.4744) (1069.3,0.446) (1071.7,0.4248) (1074,0.4177) (1076.7,0.446) (1079.3,0.5098) (1082.7,0.5876) (1086.7,0.6726) (1091.7,0.7675)
(1140,0.7718) (1143.3,0.7718) (1146,0.7647) (1148.3,0.7363) (1150,0.6938) (1151.7,0.6514) (1153.3,0.6089) (1155,0.5664) (1156.7,0.5239) (1159.3,0.5098) (1161.7,0.5027) (1164,0.5027) (1166.7,0.5098) (1170,0.5239) (1171.7,0.5522) (1173.3,0.5947) (1176.7,0.6938) (1179.3,0.7505) (1182.7,0.7618)};
\end{axis}

% ---------------- scale bars ----------------
\begin{axis}[sbar, xmin=67, xmax=163, xtick={113}, xticklabels={\tl{0}}, minor xtick={77,95,131,149}, at={(33.5pt,-335.35pt)}]
\addplot[draw=none] coordinates {(67,0) (163,0)};
\end{axis}
\begin{axis}[sbar, xmin=667, xmax=749, xtick={707}, xticklabels={\tl{0}}, minor xtick={676,692,723,739}, at={(333.5pt,-334.5pt)}]
\addplot[draw=none] coordinates {(667,0) (749,0)};
\end{axis}

% ---------------- titles ----------------
\begin{scope}[every node/.style={anchor=base west, inner sep=0pt, text=ttl, font=\calfont\fontsize{16}{18}\selectfont}]
\node at (45pt,-16pt) {CO\textsubscript{2}};
\node at (342pt,-20.85pt) {H\textsubscript{2}};
\node at (45.5pt,-123.85pt) {CO};
\node at (341.5pt,-129pt) {O\textsubscript{2}};
\node at (44.5pt,-223pt) {Temperature};
\node at (342pt,-221.5pt) {N\textsubscript{2}};
\end{scope}

% ---------------- distance labels ----------------
\begin{scope}[every node/.style={inner sep=0pt, text=lbl, font=\calfont\fontsize{10}{12}\selectfont}]
\node at (59.35pt,-360pt) {13 mm};
\node at (103.35pt,-360pt) {30 mm};
\node at (147.5pt,-360pt) {45 mm};
\node at (194pt,-360pt) {60 mm};
\node at (235.85pt,-360pt) {90 mm};
\node at (282.5pt,-360pt) {120 mm};
\node at (347.85pt,-360pt) {13 mm};
\node at (391.65pt,-360pt) {30 mm};
\node at (435.85pt,-360pt) {45 mm};
\node at (482.5pt,-360pt) {60 mm};
\node at (524pt,-360pt) {90 mm};
\node at (571.5pt,-360pt) {120 mm};
\end{scope}
\end{tikzpicture}
\end{document}
